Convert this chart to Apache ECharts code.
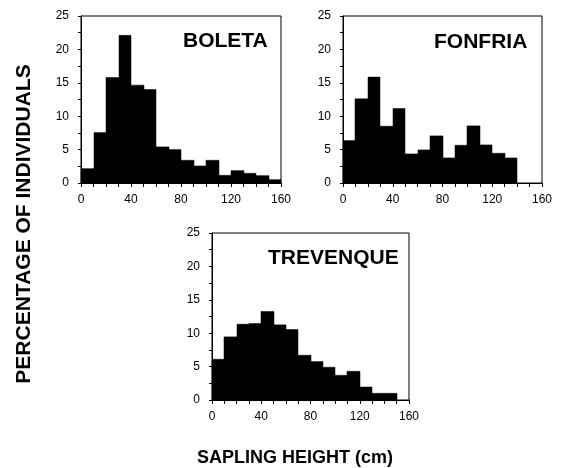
<!DOCTYPE html>
<html>
<head>
<meta charset="utf-8">
<script src="https://cdn.jsdelivr.net/npm/echarts@6/dist/echarts.min.js"></script>
<style>
  html, body { margin: 0; padding: 0; background: #fff; }
  #chart { width: 561px; height: 468px; }
</style>
</head>
<body>
<div id="chart"></div>
<script>
// histogram bins, 10 cm wide
const binStart = [0, 10, 20, 30, 40, 50, 60, 70, 80, 90, 100, 110, 120, 130, 140, 150];
const binWidth = 10;
const boleta    = [2.15, 7.55, 15.8, 22.1, 14.65, 14.0, 5.4, 5.0, 3.4, 2.55, 3.4, 1.15, 1.85, 1.45, 1.1, 0.5];
const fonfria   = [6.35, 12.6, 15.85, 8.5, 11.15, 4.35, 4.95, 7.05, 3.75, 5.65, 8.55, 5.7, 4.45, 3.75, 0, 0];
const trevenque = [6.1, 9.45, 11.35, 11.45, 13.25, 11.25, 10.55, 6.7, 5.75, 4.9, 3.7, 4.3, 1.95, 1.0, 1.0, 0];
const siteNames = ['BOLETA', 'FONFRIA', 'TREVENQUE'];
const xTicks = [0, 40, 80, 120, 160];
const yTicks = [0, 5, 10, 15, 20, 25];

const font = 'Liberation Sans, Arial, Helvetica, sans-serif';

const grids = [
    { left: 81, top: 16, width: 200, height: 167 },
    { left: 343, top: 16, width: 199, height: 167 },
    { left: 212, top: 233, width: 197, height: 167 }
];

function binData(vals) {
    return vals.map((v, i) => [binStart[i], binStart[i] + binWidth, v]);
}

// one black rect per bin; edges snapped to whole pixels so neighbours merge
function renderBin(params, api) {
    if (!api.value(2)) return;
    const p0 = api.coord([api.value(0), 0]);
    const p1 = api.coord([api.value(1), api.value(2)]);
    const x0 = Math.round(p0[0]), x1 = Math.round(p1[0]);
    return {
        type: 'rect',
        shape: { x: x0, y: p1[1], width: x1 - x0, height: p0[1] - p1[1] },
        style: { fill: '#000', stroke: '#000', lineWidth: 0.5 }
    };
}

const chart = echarts.init(document.getElementById('chart'), null, { renderer: 'canvas' });

const option = {
    animation: false,
    backgroundColor: '#fff',
    grid: grids.map(g => Object.assign({ show: true, borderColor: '#000', borderWidth: 1, backgroundColor: 'transparent' }, g)),
    xAxis: grids.map((g, i) => ({
        type: 'value',
        gridIndex: i,
        min: xTicks[0],
        max: xTicks[xTicks.length - 1],
        interval: 40,
        splitLine: { show: false },
        axisLine: { show: true, lineStyle: { color: '#000', width: 1 } },
        axisTick: { show: true, length: 4, lineStyle: { color: '#000' } },
        minorTick: { show: true, splitNumber: 4, length: 4, lineStyle: { color: '#000' } },
        axisLabel: { color: '#000', fontSize: 12, fontFamily: font, margin: 11 }
    })),
    yAxis: grids.map((g, i) => ({
        type: 'value',
        gridIndex: i,
        min: yTicks[0],
        max: yTicks[yTicks.length - 1],
        interval: 5,
        splitLine: { show: false },
        axisLine: { show: true, lineStyle: { color: '#000', width: 1 } },
        axisTick: { show: true, length: 3, lineStyle: { color: '#000' } },
        minorTick: { show: true, splitNumber: 2, length: 3, lineStyle: { color: '#000' } },
        axisLabel: { color: '#000', fontSize: 12, fontFamily: font, margin: 12 }
    })),
    series: [boleta, fonfria, trevenque].map((vals, i) => ({
        type: 'custom',
        name: siteNames[i],
        xAxisIndex: i,
        yAxisIndex: i,
        renderItem: renderBin,
        encode: { x: [0, 1], y: 2 },
        data: binData(vals)
    })),
    graphic: [
        { type: 'text', left: 183, top: 31, style: { text: siteNames[0], font: 'bold 21px ' + font, fill: '#000' } },
        { type: 'text', left: 434, top: 32, style: { text: siteNames[1], font: 'bold 21px ' + font, fill: '#000' } },
        { type: 'text', left: 268, top: 248, style: { text: siteNames[2], font: 'bold 21px ' + font, fill: '#000' } },
        {
            type: 'text', x: 24, y: 224, rotation: Math.PI / 2,
            style: { text: 'PERCENTAGE OF INDIVIDUALS', font: 'bold 21px ' + font, fill: '#000', align: 'center', verticalAlign: 'middle' }
        },
        {
            type: 'text', x: 295, y: 458,
            style: { text: 'SAPLING HEIGHT (cm)', font: 'bold 18px ' + font, fill: '#000', align: 'center', verticalAlign: 'middle' }
        }
    ]
};

chart.setOption(option);
</script>
</body>
</html>
